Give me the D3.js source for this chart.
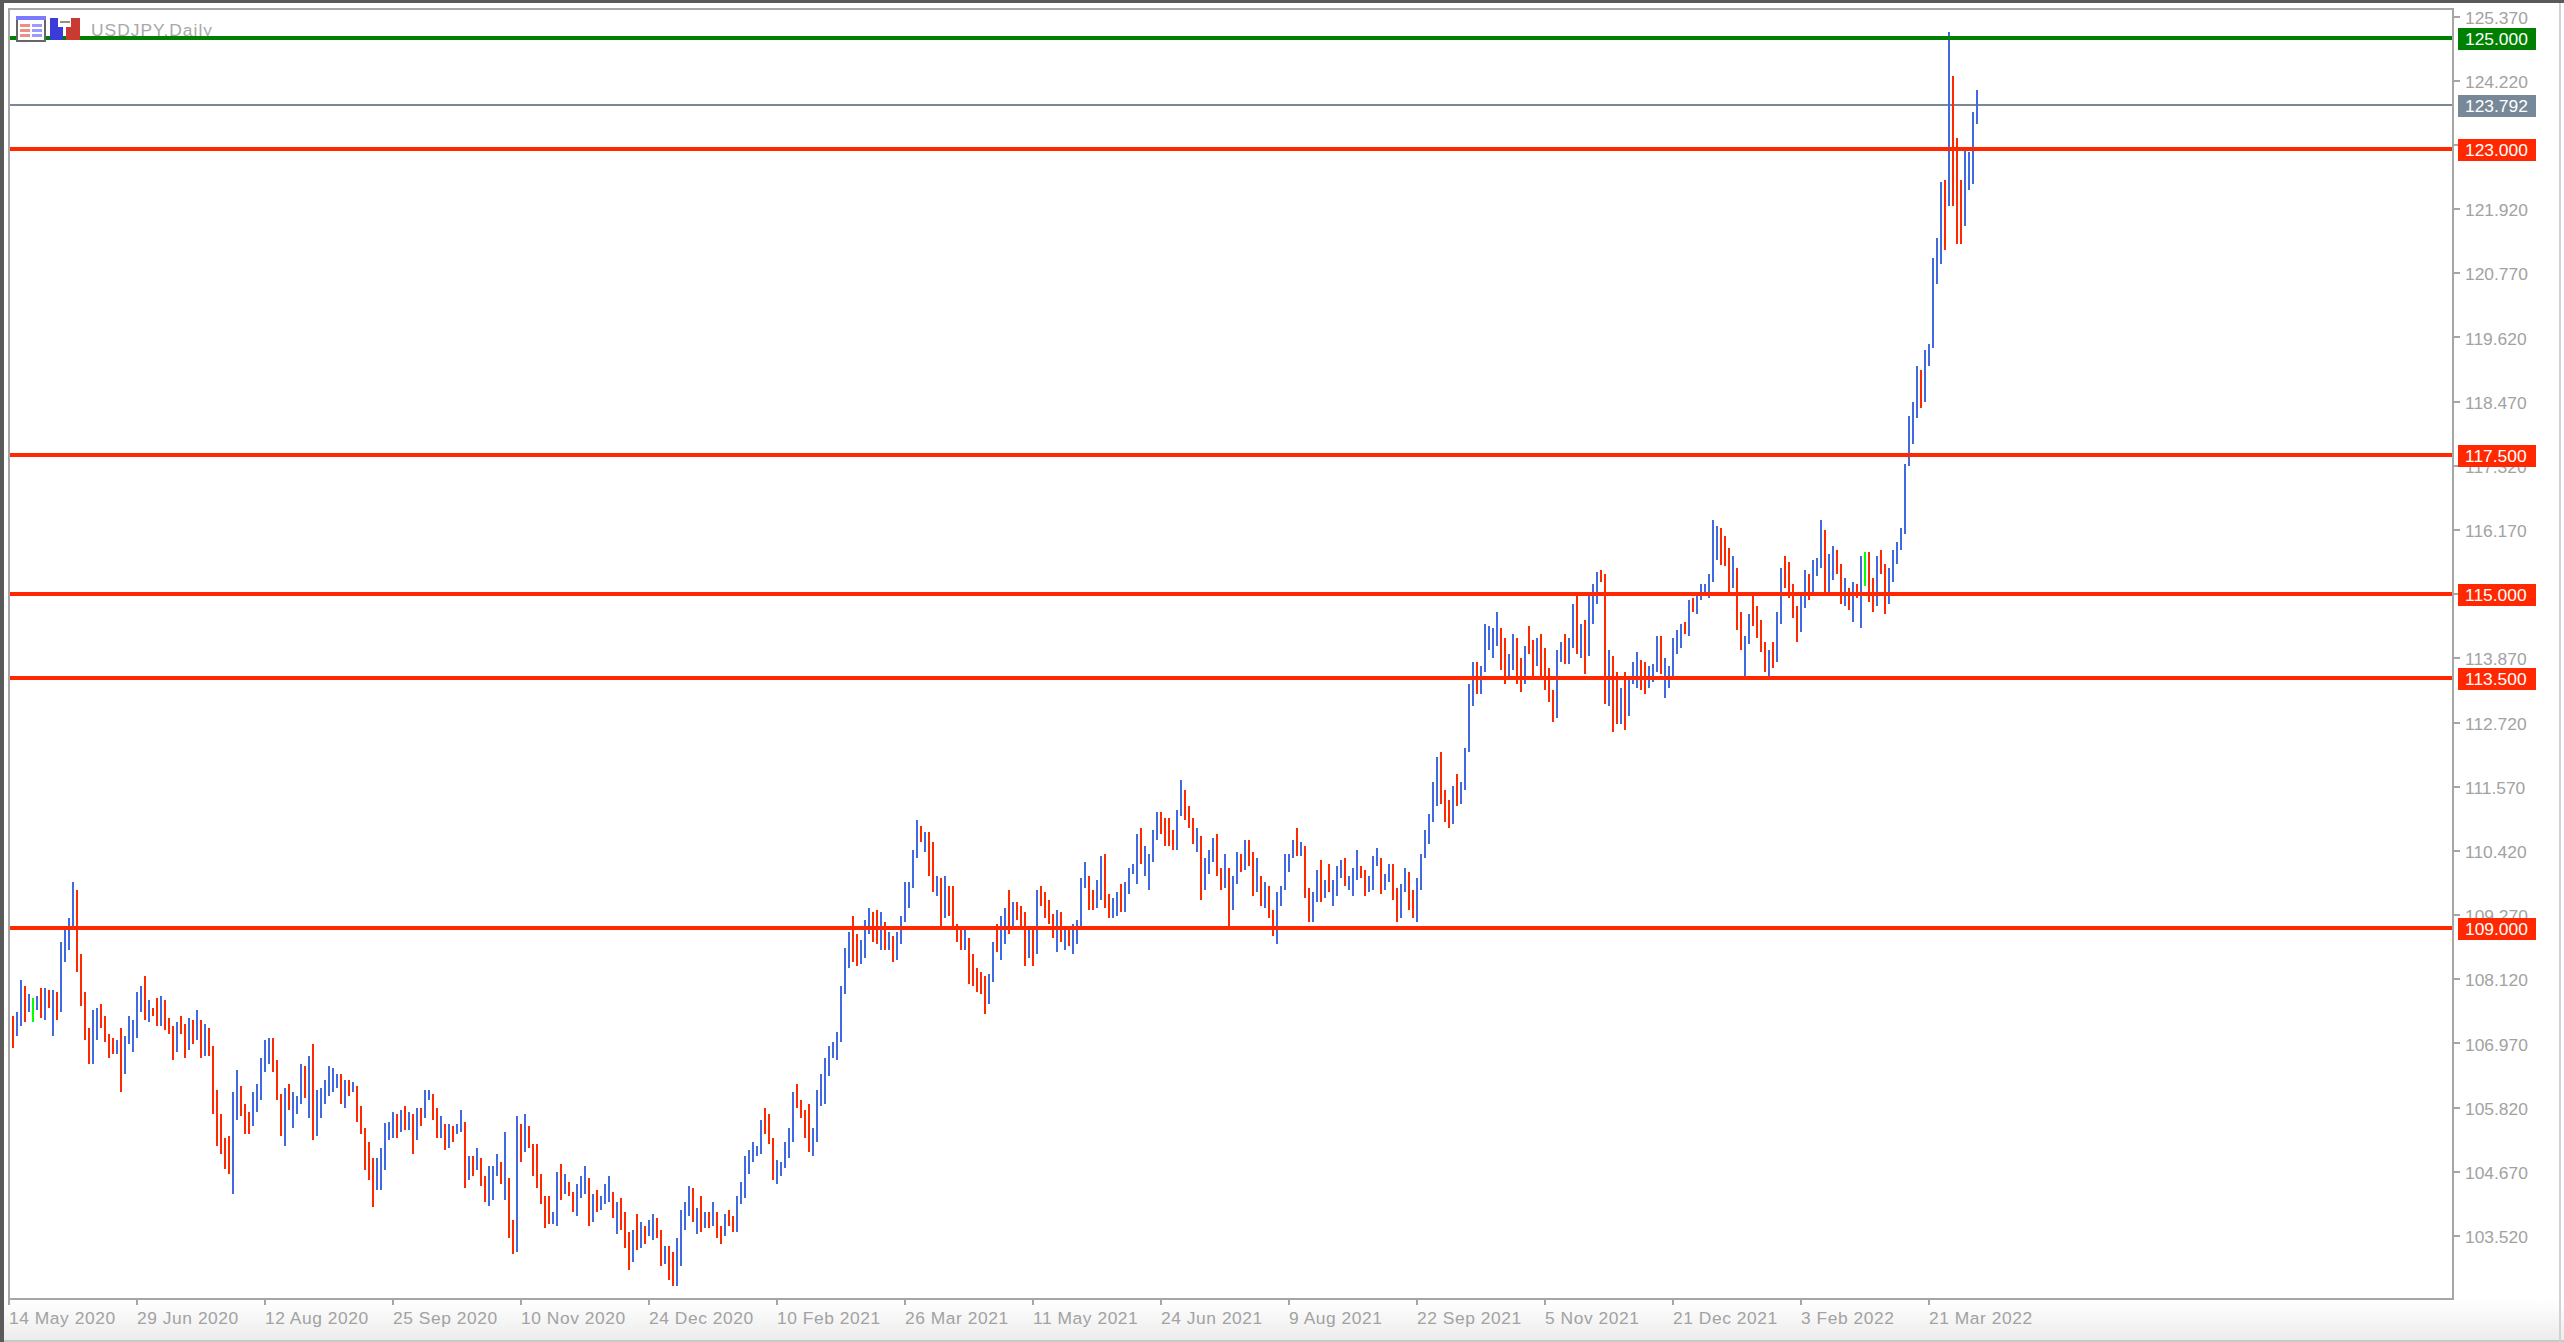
<!DOCTYPE html>
<html>
<head>
<meta charset="utf-8">
<title>USDJPY,Daily</title>
<script src="https://cdn.jsdelivr.net/npm/d3@7"></script>
<style>
  html, body { margin: 0; padding: 0; background: #fff; overflow: hidden; }
  svg { display: block; }
  text { font-family: "Liberation Sans", Arial, sans-serif; }
</style>
</head>
<body>
<svg id="chart" width="2564" height="1342"></svg>
<script>
const symbolTitle = "USDJPY,Daily";

const barHighs = [
  107.42,107.50,108.07,107.96,107.82,107.75,107.78,107.93,107.93,107.89,
  107.89,107.85,108.75,109.01,109.19,109.83,109.69,108.54,107.85,107.21,
  107.53,107.57,107.64,107.42,107.10,107.03,106.99,107.21,107.07,107.42,
  107.35,107.85,107.96,108.14,107.71,107.57,107.75,107.78,107.71,107.39,
  107.25,107.32,107.42,107.28,107.39,107.35,107.53,107.35,107.28,107.21,
  106.88,106.09,105.66,105.23,105.27,106.06,106.45,106.17,105.84,105.70,
  106.06,106.20,106.67,106.99,107.03,107.03,106.63,106.02,106.13,106.20,
  106.06,105.98,106.56,106.52,106.70,106.92,106.10,106.13,106.27,106.52,
  106.49,106.38,106.38,106.27,106.27,106.24,106.17,105.81,105.41,105.16,
  104.87,104.87,105.05,105.49,105.52,105.70,105.66,105.73,105.81,105.70,
  105.66,105.77,105.77,106.09,106.09,106.02,105.77,105.63,105.48,105.48,
  105.45,105.48,105.73,105.52,104.91,104.91,105.05,104.87,104.55,104.73,
  104.73,104.94,104.80,105.34,104.51,103.76,105.63,105.48,105.66,105.45,
  105.12,105.12,104.58,104.19,104.19,103.90,104.62,104.76,104.58,104.44,
  104.26,104.40,104.55,104.73,104.51,104.22,104.30,104.19,104.40,104.55,
  104.26,104.08,104.15,103.90,103.54,103.58,103.87,103.72,103.65,103.76,
  103.87,103.79,103.58,103.29,103.29,103.18,103.43,103.94,104.08,104.37,
  104.33,103.97,104.19,103.90,103.90,104.08,103.90,103.65,103.87,103.94,
  103.83,104.19,104.44,104.91,105.02,105.16,105.09,105.55,105.77,105.66,
  105.23,104.84,104.80,105.16,105.41,106.06,106.20,105.91,105.73,105.84,
  105.41,106.09,106.38,106.67,106.88,106.96,107.14,107.97,108.65,108.93,
  109.22,108.90,108.79,109.15,109.37,109.29,109.33,109.29,109.11,108.93,
  108.86,108.93,109.22,109.83,109.83,110.41,110.95,110.84,110.73,110.73,
  110.55,109.94,109.90,109.94,109.76,109.76,109.08,108.97,109.00,108.82,
  108.54,108.29,108.21,108.14,108.18,108.75,109.08,109.22,109.37,109.69,
  109.47,109.47,109.40,109.29,109.00,109.00,109.69,109.76,109.65,109.51,
  109.26,109.33,109.29,109.00,109.00,109.08,109.15,109.90,110.19,109.94,
  109.69,109.87,110.30,110.33,109.62,109.54,109.65,109.80,109.83,110.08,
  110.15,110.69,110.80,110.48,110.33,110.77,111.09,111.09,110.98,110.98,
  110.77,111.13,111.66,111.48,111.20,110.98,110.80,110.66,110.26,110.41,
  110.62,110.69,110.08,110.33,110.08,109.94,110.37,110.33,110.58,110.58,
  110.37,110.26,109.94,109.83,109.76,109.32,109.65,109.76,110.33,110.33,
  110.58,110.80,110.55,110.47,109.72,109.65,110.04,110.22,109.86,110.15,
  109.86,110.12,110.22,110.26,109.94,110.08,110.40,110.12,110.04,109.94,
  110.29,110.44,110.26,109.97,110.15,110.15,109.72,109.79,110.08,110.01,
  109.69,109.90,110.33,110.76,111.05,111.62,112.08,112.17,111.48,111.30,
  111.55,111.77,111.62,112.24,113.39,113.79,113.79,113.71,114.47,114.43,
  114.40,114.68,114.40,114.22,113.93,114.29,114.22,113.86,114.07,114.43,
  114.18,114.22,114.29,114.04,113.68,113.28,114.00,114.15,114.29,114.22,
  114.83,115.01,114.47,114.54,115.04,115.19,115.40,115.44,115.37,114.00,
  113.89,113.61,113.32,113.61,113.46,113.79,113.97,113.82,113.79,113.71,
  113.75,114.25,114.25,113.86,113.71,114.22,114.36,114.47,114.51,114.90,
  114.94,114.97,115.19,115.19,115.37,116.34,116.23,116.20,116.05,115.84,
  115.69,115.48,114.69,114.26,114.65,114.97,114.80,114.54,114.15,114.00,
  114.15,114.69,115.48,115.69,115.59,115.19,114.80,114.97,115.44,115.37,
  115.62,115.66,116.34,116.16,115.73,115.87,115.80,115.55,115.30,115.12,
  115.23,115.19,115.69,115.77,115.77,115.30,115.69,115.80,115.55,115.48,
  115.80,115.95,116.20,117.34,118.21,118.46,119.10,119.03,119.39,119.50,
  121.05,121.41,122.41,122.45,125.11,124.32,123.20,122.45,122.99,122.95,
  123.67,124.07
];

const barLows = [
  106.85,107.07,107.25,107.32,107.50,107.32,107.53,107.39,107.35,107.57,
  107.07,107.35,107.50,108.39,108.61,109.04,108.21,107.60,106.99,106.56,
  106.56,106.99,107.21,106.95,106.67,106.74,106.74,106.06,106.38,106.92,
  106.78,107.03,107.50,107.35,107.32,107.42,107.25,107.25,107.17,107.10,
  106.63,106.78,107.10,106.67,106.81,106.92,106.99,106.67,106.70,106.70,
  105.66,105.09,104.95,104.67,104.58,104.22,105.56,105.63,105.30,105.30,
  105.45,105.70,105.91,106.42,106.56,106.42,105.91,105.27,105.09,105.73,
  105.41,105.66,105.84,105.95,105.59,105.20,105.27,105.59,105.84,105.98,
  106.06,106.13,105.84,105.77,105.98,106.06,105.52,105.30,104.65,104.47,
  103.99,104.30,104.30,104.65,105.20,105.23,105.23,105.34,105.38,105.38,
  104.95,105.20,105.45,105.59,105.91,105.55,105.23,105.23,105.02,105.05,
  105.16,105.30,105.34,104.33,104.48,104.55,104.66,104.37,104.08,104.01,
  104.12,104.55,104.40,104.12,103.43,103.15,103.18,104.80,104.98,105.05,
  104.55,104.33,104.05,103.61,103.69,103.69,103.65,104.12,104.22,104.19,
  103.90,103.83,104.15,104.22,103.65,103.72,103.90,103.94,104.05,104.08,
  103.79,103.51,103.58,103.25,102.86,103.00,103.22,103.25,103.33,103.47,
  103.40,103.43,102.93,102.97,102.68,102.57,102.57,102.93,103.58,103.83,
  103.72,103.51,103.54,103.61,103.61,103.65,103.43,103.33,103.47,103.65,
  103.54,103.54,104.05,104.15,104.58,104.80,104.91,104.94,105.30,105.12,
  104.48,104.40,104.55,104.69,104.87,105.16,105.77,105.59,105.23,104.98,
  104.91,105.16,105.81,105.84,106.35,106.67,106.63,106.96,107.82,108.29,
  108.39,108.32,108.36,108.47,108.90,108.75,108.72,108.61,108.61,108.61,
  108.39,108.43,108.72,109.11,109.37,109.72,110.26,110.55,110.37,109.94,
  109.65,109.58,109.04,109.18,109.22,109.00,108.75,108.61,108.61,108.00,
  107.97,107.86,107.82,107.46,107.64,108.03,108.57,108.43,108.72,108.90,
  109.04,109.15,109.00,108.32,108.47,108.32,108.54,109.40,109.18,109.08,
  108.82,108.57,108.75,108.61,108.68,108.54,108.72,109.00,109.72,109.33,
  109.33,109.37,109.51,109.37,109.18,109.18,109.22,109.29,109.29,109.62,
  109.98,109.80,110.15,109.94,109.69,110.19,110.59,110.69,110.48,110.48,
  110.41,110.41,111.02,110.95,110.80,110.51,110.37,109.51,109.69,109.98,
  110.19,109.94,109.69,109.72,109.00,109.33,109.80,110.01,110.04,110.12,
  109.58,109.65,109.40,109.36,109.18,108.86,108.71,109.40,109.69,110.01,
  110.26,110.29,110.29,109.54,109.11,109.11,109.47,109.47,109.54,109.65,
  109.40,109.58,109.90,109.76,109.69,109.58,109.86,109.90,109.58,109.65,
  109.69,110.12,109.61,109.69,109.83,109.50,109.11,109.18,109.65,109.32,
  109.18,109.11,109.69,110.26,110.51,110.91,111.19,111.23,110.91,110.80,
  110.87,111.19,111.23,111.48,112.17,113.00,113.21,113.21,113.61,114.00,
  113.86,114.07,113.64,113.39,113.50,113.64,113.39,113.25,113.39,113.93,
  113.50,113.71,113.50,113.28,113.07,112.71,112.78,113.79,113.75,113.75,
  114.04,113.93,113.86,113.57,113.89,114.47,114.83,115.23,113.03,113.00,
  112.53,112.67,112.67,112.56,112.82,113.39,113.32,113.28,113.21,113.32,
  113.43,113.61,113.57,113.14,113.32,113.53,113.93,114.04,114.29,114.25,
  114.68,114.65,114.90,115.01,114.94,115.23,115.62,115.52,115.51,115.01,
  115.12,114.36,114.00,113.53,114.11,114.44,114.22,113.97,113.61,113.50,
  113.68,113.79,114.47,115.12,114.94,114.58,114.15,114.33,114.76,114.90,
  115.01,115.33,115.48,115.02,115.02,115.26,115.37,114.83,114.80,114.72,
  114.51,114.94,114.40,115.15,114.87,114.69,114.80,115.37,114.65,114.83,
  115.23,115.55,115.80,116.09,117.31,117.70,118.17,118.35,118.46,119.10,
  119.43,120.58,120.94,121.19,121.98,121.98,121.30,121.30,121.62,122.27,
  122.38,123.45
];

// one letter per bar: u = up, d = down, n = unchanged
const barKinds = [
  "duudunudud","uduuuudddd","uuddddud" + "uu","uuududdudd","duddududud",
  "ddddduuddd","uuuuuddd" + "ud","uuududuuuu","uudududddd","duuuuududu",
  "duduuddudu","duudududdu","uududdudud","ddddduudud","duuududuuu",
  "dudddududu","uddudduuuu","dudududdud","duuuuuuudd","duuuuudddd",
  "uuuuuuuuuu","dduuuddudu","duuuuuudud","dududdddud","dddduuduud",
  "udddududdd","dududuuuud","duudduuduu","uuduuuuddd","duudddud" + "uu",
  "uddud" + "uudud","dududduuuu","ududd" + "uudud","uuuduuuddu","uuduudduud",
  "duuuuuuddd","uduuuuduuu","uudduuddud","duddd" + "duudu","ududuuuddu",
  "ddud" + "uuu" + "ddu","uuduuuuudu","duuuuuuddd","uddu" + "udddd" + "u","duu" + "dddd" + "uud",
  "uuuduu" + "ddud","udun" + "ddu" + "ddu","uuuuuuuduu","uuudu" + "dddu" + "u","uu"
].join("").split("");

const priceTicks = [125.37, 124.22, 123.07, 121.92, 120.77, 119.62, 118.47, 117.32, 116.17, 115.02,
  113.87, 112.72, 111.57, 110.42, 109.27, 108.12, 106.97, 105.82, 104.67, 103.52];
// these two sit fully behind a price tag in the picture, only their tick shows
const hiddenTickLabels = [123.07, 115.02];

const levelPrices = [125, 123, 117.5, 115, 113.5, 109];
const levelKinds = ["target", "stop", "stop", "stop", "stop", "stop"];
const lastPrice = 123.792;

const dateLabels = ["14 May 2020", "29 Jun 2020", "12 Aug 2020", "25 Sep 2020", "10 Nov 2020", "24 Dec 2020",
  "10 Feb 2021", "26 Mar 2021", "11 May 2021", "24 Jun 2021", "9 Aug 2021", "22 Sep 2021",
  "5 Nov 2021", "21 Dec 2021", "3 Feb 2022", "21 Mar 2022"];
const dateBars = [-1, 31, 63, 95, 127, 159, 191, 223, 255, 287, 319, 351, 383, 415, 447, 479];

const BAR_COLORS = { u: "#4169e1", d: "#ff2800", n: "#00ff00" };
const LEVEL_COLORS = { target: "#008000", stop: "#ff2800" };
const GREY_TEXT = "#a2a2a2";
const FRAME = "#a6a6a6";

const svg = d3.select("#chart");

const x = d3.scaleLinear().domain([0, 491]).range([13, 1977]);
const y = d3.scaleLinear().domain([125, 103.52]).range([38, 1233.1]);
// the price axis labels run a touch wider than the bars in the screenshot
const yAxisScale = d3.scaleLinear().domain([125.37, 103.52]).range([16.5, 1236]);

// ===== WINDOW =====
const defs = svg.append("defs");
const fade = defs.append("linearGradient").attr("id", "fade").attr("x1", 0).attr("x2", 0).attr("y1", 0).attr("y2", 1);
fade.append("stop").attr("offset", "0").attr("stop-color", "#ffffff");
fade.append("stop").attr("offset", "1").attr("stop-color", "#ececec");

svg.append("rect").attr("width", 2564).attr("height", 1342).attr("fill", "#fff");
svg.append("rect").attr("y", 1300).attr("width", 2564).attr("height", 40).attr("fill", "url(#fade)");
svg.append("rect").attr("y", 1340).attr("width", 2564).attr("height", 2).attr("fill", "#c8c8c8");
svg.append("rect").attr("x", 2559).attr("width", 2).attr("height", 1342).attr("fill", "#d2d2d2");
svg.append("rect").attr("width", 2564).attr("height", 3).attr("fill", "#5a5a5a");
svg.append("rect").attr("width", 4).attr("height", 1342).attr("fill", "#5a5a5a");

svg.append("rect")
  .attr("x", 9).attr("y", 9).attr("width", 2444).attr("height", 1290)
  .attr("fill", "none").attr("stroke", FRAME).attr("stroke-width", 2)
  .attr("shape-rendering", "crispEdges");

// ===== TITLE =====
svg.append("text")
  .attr("x", 91).attr("y", 35.5)
  .attr("fill", "#a8a8a8").attr("font-size", 17.4)
  .attr("textLength", 121).attr("lengthAdjust", "spacing")
  .text(symbolTitle);

// ===== BARS =====
svg.append("line")
  .attr("x1", 10).attr("x2", 2452)
  .attr("y1", y(lastPrice)).attr("y2", y(lastPrice))
  .attr("stroke", "#778899").attr("stroke-width", 2)
  .attr("shape-rendering", "crispEdges");

svg.append("g")
  .attr("shape-rendering", "crispEdges")
  .selectAll("line")
  .data(barHighs)
  .join("line")
  .attr("x1", (d, i) => x(i))
  .attr("x2", (d, i) => x(i))
  .attr("y1", d => y(d))
  .attr("y2", (d, i) => y(barLows[i]))
  .attr("stroke", (d, i) => BAR_COLORS[barKinds[i]])
  .attr("stroke-width", 2);

// ===== LEVEL LINES =====
svg.append("g")
  .attr("shape-rendering", "crispEdges")
  .selectAll("line")
  .data(levelPrices)
  .join("line")
  .attr("x1", 10).attr("x2", 2452)
  .attr("y1", d => y(d)).attr("y2", d => y(d))
  .attr("stroke", (d, i) => LEVEL_COLORS[levelKinds[i]])
  .attr("stroke-width", 4);

// ===== AXES =====
const priceLabel = d3.format(".3f");

const gy = svg.append("g")
  .attr("transform", "translate(2453,0)")
  .call(d3.axisRight(yAxisScale)
    .tickValues(priceTicks)
    .tickFormat(d => hiddenTickLabels.includes(d) ? "" : priceLabel(d))
    .tickSize(7).tickPadding(5).offset(0));

const gx = svg.append("g")
  .attr("transform", "translate(0,1299)")
  .call(d3.axisBottom(x).tickValues(dateBars).tickFormat((d, i) => dateLabels[i]).tickSize(6).tickPadding(7).offset(0));

svg.selectAll(".domain").remove();
svg.selectAll(".tick line").attr("stroke", FRAME).attr("stroke-width", 2).attr("shape-rendering", "crispEdges");
svg.selectAll(".tick text")
  .attr("fill", GREY_TEXT)
  .attr("font-size", 17.4)
  .attr("font-family", "Liberation Sans, Arial, sans-serif");
gy.selectAll(".tick text").attr("dy", "0.41em");
gx.selectAll(".tick text")
  .attr("text-anchor", "start")
  .attr("letter-spacing", 0.55);

// ===== PRICE TAGS =====
const tags = levelPrices.map((p, i) => ({ price: p, color: LEVEL_COLORS[levelKinds[i]] }));
tags.splice(1, 0, { price: lastPrice, color: "#778899" });

const tag = svg.append("g").selectAll("g").data(tags).join("g")
  .attr("transform", d => `translate(2458,${Math.round(y(d.price)) + 1})`);

tag.append("rect")
  .attr("y", -11).attr("width", 78).attr("height", 22)
  .attr("fill", d => d.color);

tag.append("text")
  .attr("x", 7).attr("dy", "0.36em")
  .attr("fill", "#fff").attr("font-size", 17.4)
  .text(d => priceLabel(d.price));

// ===== TOOLBAR ICONS =====
const icons = svg.append("g").attr("shape-rendering", "crispEdges");
icons.append("rect").attr("x", 17).attr("y", 17).attr("width", 28).attr("height", 24).attr("fill", "#fff").attr("stroke", "#666").attr("stroke-width", 2);
icons.append("rect").attr("x", 16).attr("y", 16).attr("width", 30).attr("height", 4).attr("fill", "#7a7aff");
[24, 29, 34].forEach(yy => {
  icons.append("rect").attr("x", 20).attr("y", yy).attr("width", 10).attr("height", 3).attr("fill", "#ee8f86");
  icons.append("rect").attr("x", 32).attr("y", yy).attr("width", 10).attr("height", 3).attr("fill", "#9a9aff");
});
icons.append("rect").attr("x", 50).attr("y", 18).attr("width", 13).attr("height", 22).attr("fill", "#3b3bd8");
icons.append("rect").attr("x", 66).attr("y", 18).attr("width", 14).attr("height", 22).attr("fill", "#c83a32");
icons.append("rect").attr("x", 58).attr("y", 18).attr("width", 13).attr("height", 9).attr("fill", "#fff");
icons.append("rect").attr("x", 60).attr("y", 21).attr("width", 10).attr("height", 2).attr("fill", "#909090");
</script>
</body>
</html>
